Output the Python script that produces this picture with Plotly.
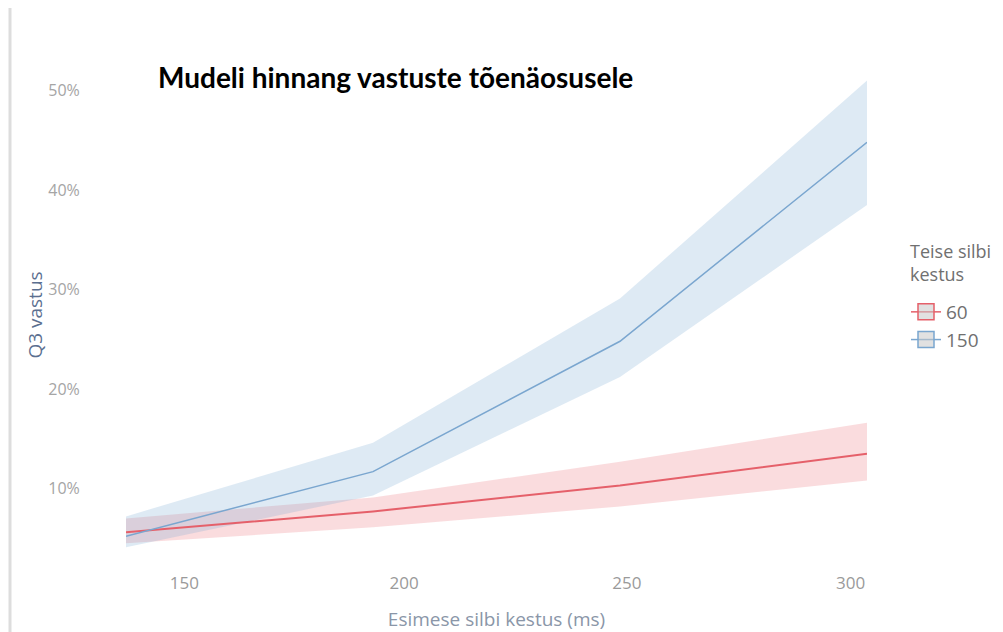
import plotly.graph_objects as go

# Data
x_vals = [150, 200, 250, 300]
series_names = ["60", "150"]
red_mid = [0.056, 0.077, 0.103, 0.135]
red_low = [0.045, 0.061, 0.082, 0.108]
red_high = [0.070, 0.091, 0.127, 0.166]
blue_mid = [0.052, 0.117, 0.248, 0.448]
blue_low = [0.041, 0.093, 0.212, 0.385]
blue_high = [0.072, 0.146, 0.291, 0.510]

x_tick_vals = [161.8, 206.3, 251.4, 296.7]
x_tick_text = ["150", "200", "250", "300"]
y_tick_vals = [0.1, 0.2, 0.3, 0.4, 0.5]

RED = "#e5606a"
BLUE = "#7aa6cf"
RED_FILL = "rgba(232,96,106,0.22)"
BLUE_FILL = "rgba(116,166,207,0.24)"

# page body has an 8px margin, so the figure is laid out 8px smaller
W, H = 995, 624
L, T, R, B = 118, 67, 136, 77
PW = W - L - R
PH = H - T - B

fig = go.Figure()

def band(low, high, fill):
    fig.add_trace(go.Scatter(x=x_vals, y=low, mode="lines", line=dict(width=0),
                             showlegend=False, hoverinfo="skip"))
    fig.add_trace(go.Scatter(x=x_vals, y=high, mode="lines", line=dict(width=0),
                             fill="tonexty", fillcolor=fill, showlegend=False, hoverinfo="skip"))

band(red_low, red_high, RED_FILL)
band(blue_low, blue_high, BLUE_FILL)

fig.add_trace(go.Scatter(x=x_vals, y=red_mid, mode="lines", line=dict(color=RED, width=2),
                         showlegend=False))
fig.add_trace(go.Scatter(x=x_vals, y=blue_mid, mode="lines", line=dict(color=BLUE, width=1.5),
                         showlegend=False))

# legend entries
for name, col in zip(series_names, [RED, BLUE]):
    fig.add_trace(go.Scatter(x=[None], y=[None], mode="lines+markers", name=name,
                             line=dict(color=col, width=1.5),
                             marker=dict(symbol="square", size=21,
                                         color="rgba(200,200,200,0.55)",
                                         line=dict(color=col, width=1.5))))

fig.update_layout(
    width=W, height=H,
    paper_bgcolor="white", plot_bgcolor="white",
    margin=dict(l=L, r=R, t=T, b=B),
    font=dict(family="Open Sans", color="#999999"),
    title=dict(text="<b>Mudeli hinnang vastuste tõenäosusele</b>",
               font=dict(family="Lato", size=28, color="#000000"),
               xref="container", yref="container",
               x=150 / W, xanchor="left", y=1 - 70 / H, yanchor="middle"),
    xaxis=dict(range=[150, 300], tickvals=x_tick_vals, ticktext=x_tick_text,
               showgrid=False, zeroline=False, showline=False, automargin=False,
               ticks="outside", ticklen=13, tickcolor="rgba(0,0,0,0)",
               tickfont=dict(size=17, color="#9a9a9a"),
               title=dict(text="Esimese silbi kestus (ms)", standoff=24,
                          font=dict(size=19, color="#8a96a8"))),
    yaxis=dict(range=[0.0332, 0.5156], tickvals=y_tick_vals, tickformat=".0%",
               showgrid=False, zeroline=False, showline=False, automargin=False,
               ticks="outside", ticklen=42, tickcolor="rgba(0,0,0,0)",
               tickfont=dict(size=16, color="#a5a5a5"),
               title=dict(text="Q3 vastus", standoff=0,
                          font=dict(size=19, color="#5b6f90"))),
    legend=dict(xref="container", yref="container",
                x=898 / W, y=1 - 285 / H, xanchor="left", yanchor="top",
                traceorder="normal",
                font=dict(size=19, color="#707070"), itemwidth=30),
    annotations=[dict(text="Teise silbi<br>kestus", xref="paper", yref="paper",
                      x=(900 - L) / PW, y=1 - (254 - T) / PH, xanchor="left",
                      yanchor="middle", align="left", showarrow=False,
                      font=dict(size=18, color="#707070"))],
    shapes=[dict(type="line", xref="paper", yref="paper",
                 x0=(2 - L) / PW, x1=(2 - L) / PW, y0=-0.3, y1=1.3,
                 line=dict(color="#dddddd", width=3))],
)

fig.write_html("out.html")
